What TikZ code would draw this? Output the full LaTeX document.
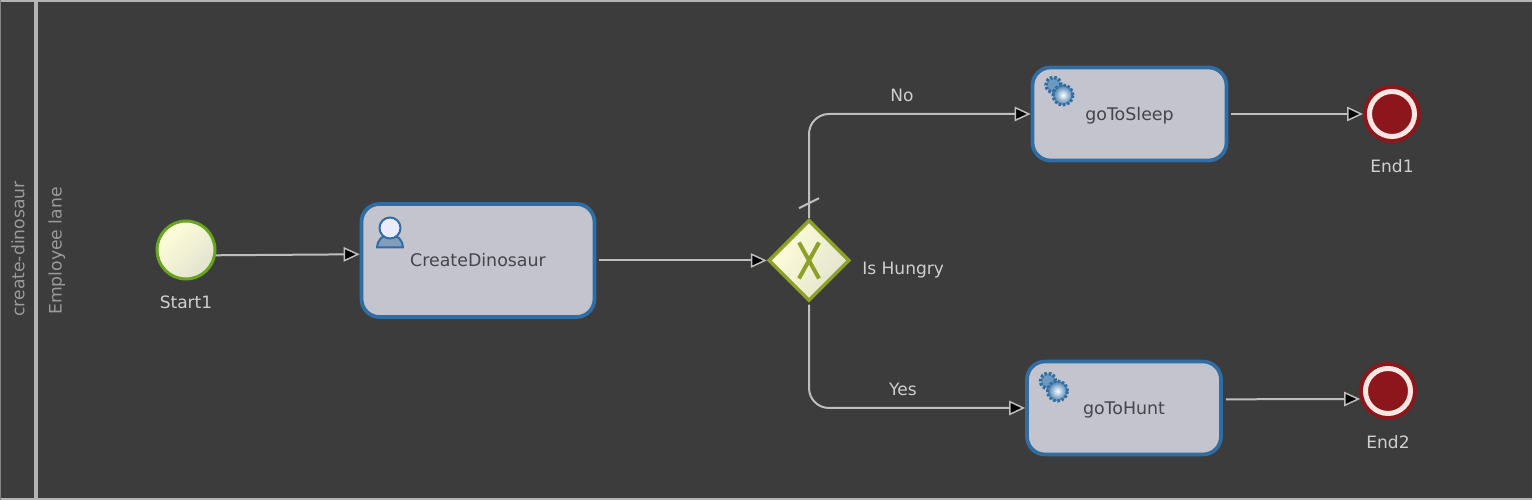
\documentclass[tikz,border=0pt]{standalone}
\usepackage{fontspec}
\setmainfont{DejaVu Sans}
\usetikzlibrary{calc}
\usetikzlibrary{shapes}
\usetikzlibrary{arrows.meta}
\definecolor{lanebg}{HTML}{3C3C3C}
\definecolor{laneline}{HTML}{B4B4B4}
\definecolor{lanetext}{HTML}{9A9A9A}
\definecolor{labeltext}{HTML}{CFCFCF}
\definecolor{flowline}{HTML}{BEBEBE}
\definecolor{taskfill}{HTML}{C4C4CE}
\definecolor{taskline}{HTML}{2F6DA3}
\definecolor{tasktext}{HTML}{45454B}
\definecolor{startline}{HTML}{68A51F}
\definecolor{gateline}{HTML}{8DA028}
\definecolor{endred}{HTML}{8C161C}
\definecolor{endring}{HTML}{FBE6E2}
\tikzset{
  flow/.style = {draw = flowline, line width = 0.04cm, -{Triangle[length = 0.32cm, width = 0.29cm, fill = black, line width = 0.03cm]}},
  task/.style = {rectangle, rounded corners = 0.36cm, draw = taskline, line width = 0.075cm, fill = taskfill, text = tasktext, font = \fontsize{9.9}{12}\selectfont, inner sep = 0},
  label/.style = {text = labeltext, font = \fontsize{9.7}{12}\selectfont, inner sep = 0},
  lane/.style = {text = lanetext, font = \fontsize{9.8}{12}\selectfont, inner sep = 0, rotate = 90},
  endevent/.style = {circle, draw = endred, fill = endred, line width = 0.08cm, double = endring, double distance = 0.1cm, minimum size = 0.9cm, inner sep = 0, outer sep = 0.13cm},
  gearicon/.pic = {
    \fill[taskline!70!white] (-0.1,0.12) circle (0.15);
    \draw[taskline, line width = 0.07cm, dash pattern = on 0.05cm off 0.035cm] (-0.1,0.12) circle (0.15);
    \shade[inner color = white, outer color = taskline!90!white] (0.09,-0.08) circle (0.2);
    \draw[taskline, line width = 0.06cm, dash pattern = on 0.05cm off 0.035cm] (0.09,-0.08) circle (0.2);
  }
}
\begin{document}
\begin{tikzpicture}
\useasboundingbox (0,0) rectangle (30.64,10);
% swimlane
\fill[lanebg] (0,0) rectangle (30.64,10);
\fill[laneline] (0,9.96) rectangle (30.64,10);
\fill[laneline] (0,0) rectangle (30.64,0.04);
\fill[laneline] (0.67,0) rectangle (0.76,10);
\fill[laneline!60!lanebg] (0,0) rectangle (0.02,10);
\draw (0.36,5.02) node[lane, name = pool]{create-dinosaur};
\draw (1.14,4.98) node[lane, name = emplane]{Employee lane};
% nodes
\draw (3.72,5) node[circle, draw = startline, line width = 0.06cm, top color = white!85!yellow, bottom color = yellow!25!gray!30!white, shading angle = 45, minimum size = 1.16cm, inner sep = 0, name = start]{};
\draw (start) + (0,-1.04) node[label, name = startlabel]{Start1};
\draw (start) + (5.84,-0.21) node[task, minimum width = 4.66cm, minimum height = 2.26cm, name = create]{CreateDinosaur};
\draw (create) + (6.62,0) node[diamond, draw = gateline, line width = 0.07cm, top color = white!85!yellow, bottom color = yellow!25!gray!30!white, shading angle = 60, minimum size = 1.62cm, inner sep = 0, name = gateway]{};
\draw[gateline, line width = 0.08cm] (gateway) + (-0.2,0.36) -- + (0.2,-0.36);
\draw[gateline, line width = 0.08cm] (gateway) + (0.2,0.36) -- + (-0.2,-0.36);
\draw (gateway) + (1.06,-0.2) node[label, anchor = west, name = gatelabel]{Is Hungry};
\draw (gateway) + (6.41,2.93) node[task, minimum width = 3.88cm, minimum height = 1.86cm, text depth = 0pt, name = sleep]{goToSleep};
\draw (gateway) + (6.3,-2.95) node[task, minimum width = 3.88cm, minimum height = 1.86cm, text depth = 0pt, name = hunt]{goToHunt};
\draw (sleep) + (5.25,0) node[endevent, name = end1]{};
\draw (end1) + (0,-1.04) node[label, name = end1label]{End1};
\draw (hunt) + (5.28,0.34) node[endevent, name = end2]{};
\draw (end2) + (0,-1.02) node[label, name = end2label]{End2};
\draw (gateway) + (1.86,3.3) node[label, name = nolabel]{No};
\draw (gateway) + (1.88,-2.58) node[label, name = yeslabel]{Yes};
% icons
\fill[taskline!45!taskfill] (create) ++ (-2.02,0.26) arc[start angle = 180, end angle = 0, radius = 0.26] -- cycle;
\draw[taskline, line width = 0.04cm] (create) ++ (-2.02,0.26) arc[start angle = 180, end angle = 0, radius = 0.26] -- cycle;
\draw[taskline, line width = 0.04cm, fill = blue!8!white] (create) ++ (-1.76,0.65) circle (0.21);
\path (sleep) + (-1.42,0.46) pic {gearicon};
\path (hunt) + (-1.42,0.42) pic {gearicon};
% connectors
\draw[flow] (start.-10) -- (create.177.55);
\draw[flow, shorten < = 0.06cm] (create.east) -- (gateway.west);
\draw[flow, rounded corners = 0.4cm] (gateway.north) |- (sleep.west);
\draw[draw = flowline, line width = 0.04cm] (gateway.north) + (-0.2,0.2) -- + (0.2,0.4);
\draw[flow, rounded corners = 0.4cm, shorten < = 0.04cm] (gateway.south) |- (hunt.west);
\draw[flow, shorten < = 0.06cm] (sleep.east) -- (end1.west);
\draw[flow, shorten < = 0.06cm] (hunt.5.25) -- (end2.196);
\end{tikzpicture}
\end{document}
